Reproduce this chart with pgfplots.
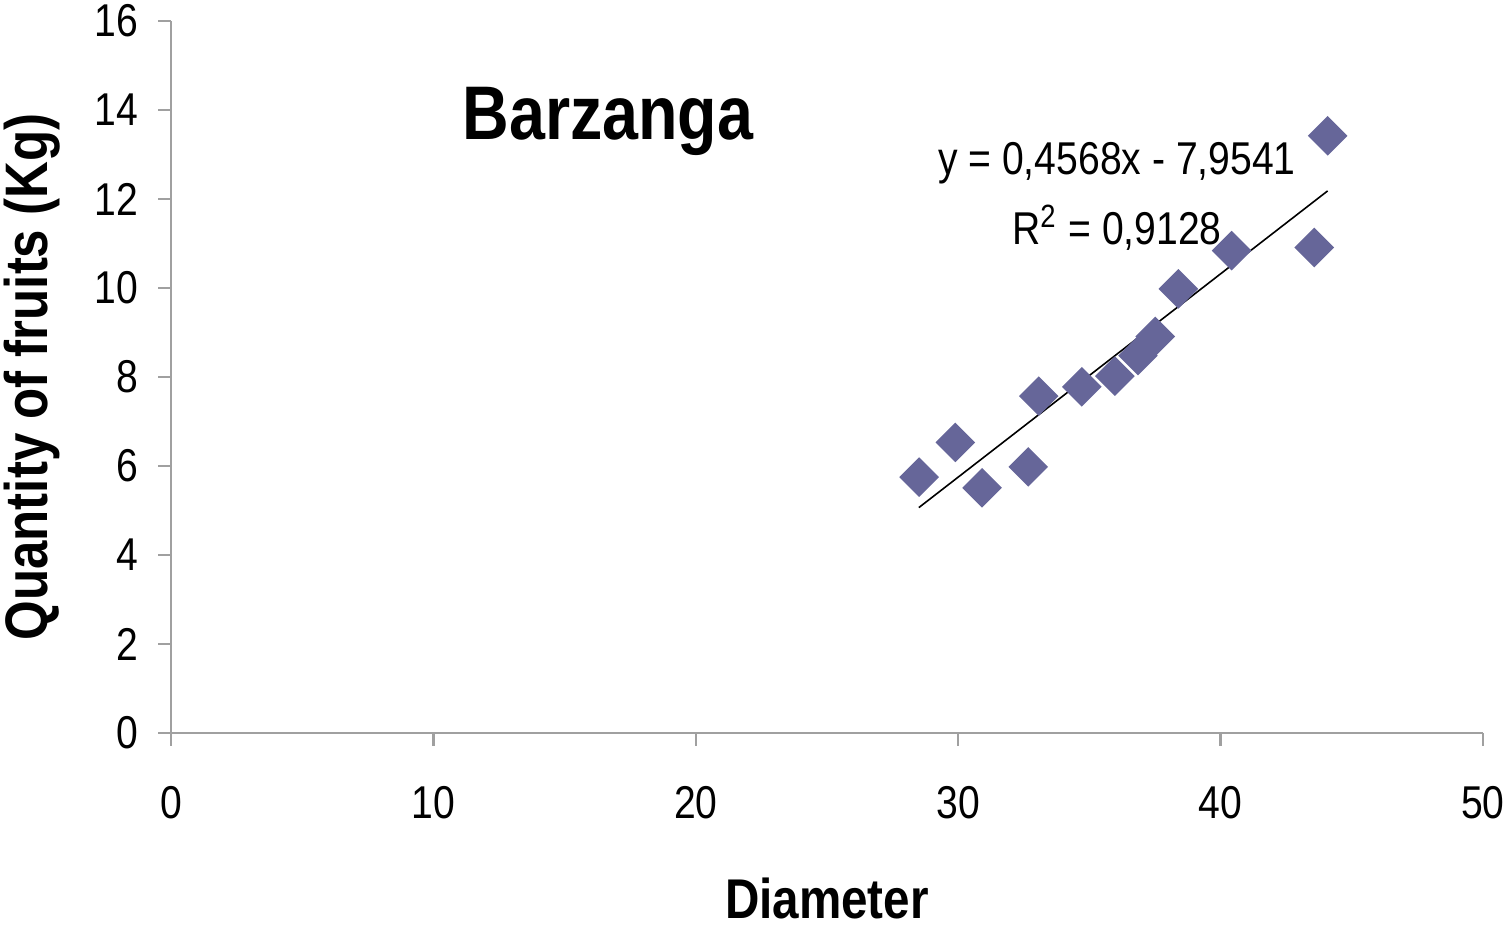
\documentclass[border=0pt]{standalone}
\usepackage{pgfplots}
\pgfplotsset{compat=1.18}
\usepackage{fontspec}
\setmainfont[FakeStretch=0.85]{Liberation Sans}
\definecolor{mk}{HTML}{666699}
\definecolor{ax}{HTML}{A0A0A0}
\begin{document}
\begin{tikzpicture}
\begin{axis}[
  scale only axis, width=328pt, height=178pt,
  xmin=0, xmax=50, ymin=0, ymax=16,
  xtick={0,10,...,50}, ytick={0,2,...,16},
  axis lines=left,
  axis line style={-, ax, line width=0.6pt},
  tick align=outside, major tick length=3.2pt,
  tick style={ax, line width=0.6pt},
  /pgf/number format/assume math mode=true,
  tick label style={font=\fontsize{11.5}{13}\selectfont},
  yticklabel style={xshift=-1.5pt},
  xticklabel style={yshift=-6.5pt},
  every axis x label/.style={at={(axis description cs:0.5,-0.232)}, anchor=center, inner sep=1pt},
  every axis y label/.style={at={(axis description cs:-0.106,0.5)}, rotate=90, anchor=center},
  xlabel={\fontsize{14}{16}\selectfont\bfseries Diameter},
  ylabel={\fontsize{15}{17}\selectfont\bfseries Quantity of fruits (Kg)},
  clip=false,
]
\addplot[only marks, mark=square*, mark size=3.3pt,
  mark options={fill=mk, draw=mk, rotate=45}] coordinates {
  (28.51,5.75) (29.89,6.53) (30.91,5.51) (32.67,5.98) (33.07,7.57)
  (34.71,7.78) (35.97,8.02) (36.85,8.48) (37.51,8.91) (38.39,9.98)
  (40.42,10.84) (43.57,10.91) (44.08,13.42)
};
\addplot[black, line width=0.4pt, mark=none] coordinates {(28.5,5.065) (44.08,12.182)};
\node[anchor=base] at (axis cs:16.65,13.33) {\fontsize{19}{22}\selectfont\bfseries Barzanga};
\node[anchor=base] at (axis cs:36.05,12.54) {\fontsize{11.5}{13}\selectfont y = 0,4568x - 7,9541};
\node[anchor=base] at (axis cs:36.05,10.97) {\fontsize{11.5}{13}\selectfont R\textsuperscript{2} = 0,9128};
\end{axis}
\pgfresetboundingbox
\path[use as bounding box] ([xshift=-42.75pt,yshift=-48.5pt]current axis.south west) rectangle ([xshift=334.25pt,yshift=183.25pt]current axis.south west);
\end{tikzpicture}
\end{document}
